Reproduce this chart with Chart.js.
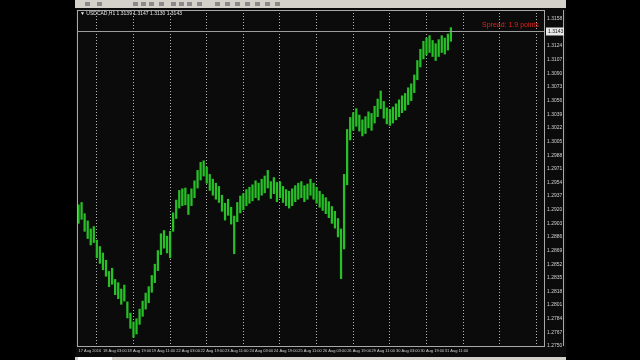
<!DOCTYPE html>
<html>
<head>
<meta charset="utf-8">
<script src="https://cdn.jsdelivr.net/npm/chart.js@4.4.0/dist/chart.umd.min.js"></script>
<style>
  html, body { margin: 0; padding: 0; background: #000; width: 640px; height: 360px; overflow: hidden; }
  #toolbar { position: absolute; left: 75px; top: 0; width: 491px; height: 8px; background: #d4d1cb; }
  #toolbar span { position: absolute; top: 2px; width: 5px; height: 4px; background: #8a8a8a; }
  #tabs { position: absolute; left: 75px; top: 357px; width: 491px; height: 3px; background: #d4d1cb; }
  #tabs span { position: absolute; left: 3px; top: 0; width: 34px; height: 3px; background: #fff; }
  #wrap { position: absolute; left: 76px; top: 8px; width: 490px; height: 349px; background: #0b0b0b; }
  #symbol { position: absolute; left: 80px; top: 10px; color: #e6e6e6; font: 5px "Liberation Sans"; white-space: nowrap; }
  #spread { position: absolute; left: 482px; top: 21px; color: #e3241d; font: 7px "Liberation Sans"; white-space: nowrap; }
</style>
</head>
<body>
<div id="toolbar">
  <span style="left:10px"></span><span style="left:22px"></span><span style="left:58px"></span>
  <span style="left:66px"></span><span style="left:74px"></span><span style="left:84px"></span>
  <span style="left:96px"></span><span style="left:104px"></span><span style="left:112px"></span>
  <span style="left:122px"></span><span style="left:140px"></span><span style="left:150px"></span>
  <span style="left:160px"></span><span style="left:170px"></span><span style="left:180px"></span>
  <span style="left:190px"></span><span style="left:200px"></span>
</div>
<div id="wrap"><canvas id="chart" width="490" height="349"></canvas></div>
<div id="symbol">▼ USDCAD,H1 1.3139 1.3147 1.3130 1.3143</div>
<div id="spread">Spread: 1.9 points</div>
<div id="tabs"><span></span></div>
<script>
// H1 bars grouped two hours per slot
const highs = [
  1.2926, 1.2929, 1.2915, 1.2906, 1.2896, 1.2899, 1.2882, 1.2874, 1.2866, 1.2857,
  1.2843, 1.2847, 1.2833, 1.2829, 1.2821, 1.2826, 1.2805, 1.2791, 1.2780, 1.2784,
  1.2796, 1.2806, 1.2816, 1.2824, 1.2838, 1.2852, 1.2869, 1.2890, 1.2894, 1.2887,
  1.2893, 1.2916, 1.2932, 1.2944, 1.2946, 1.2947, 1.2939, 1.2946, 1.2956, 1.2969,
  1.2979, 1.2981, 1.2973, 1.2964, 1.2958, 1.2953, 1.2949, 1.2938, 1.2928, 1.2933,
  1.2923, 1.2912, 1.2929, 1.2937, 1.2940, 1.2945, 1.2948, 1.2951, 1.2956, 1.2953,
  1.2958, 1.2962, 1.2969, 1.2955, 1.2960, 1.2954, 1.2955, 1.2949, 1.2945, 1.2943,
  1.2946, 1.2950, 1.2953, 1.2955, 1.2950, 1.2952, 1.2958, 1.2953, 1.2948, 1.2943,
  1.2939, 1.2935, 1.2930, 1.2924, 1.2918, 1.2909, 1.2896, 1.2964, 1.3020, 1.3035,
  1.3041, 1.3046, 1.3038, 1.3032, 1.3036, 1.3042, 1.3040, 1.3049, 1.3058, 1.3068,
  1.3055, 1.3047, 1.3045, 1.3048, 1.3052, 1.3057, 1.3062, 1.3065, 1.3072, 1.3077,
  1.3088, 1.3106, 1.3120, 1.3130, 1.3134, 1.3137, 1.3131, 1.3127, 1.3132, 1.3137,
  1.3134, 1.3139, 1.3147
];
const lows = [
  1.2903, 1.2908, 1.2893, 1.2884, 1.2876, 1.2879, 1.2860, 1.2853, 1.2845, 1.2837,
  1.2824, 1.2827, 1.2814, 1.2809, 1.2802, 1.2806, 1.2785, 1.2772, 1.2761, 1.2765,
  1.2777, 1.2787, 1.2796, 1.2804, 1.2817, 1.2829, 1.2844, 1.2864, 1.2872, 1.2866,
  1.2860, 1.2893, 1.2909, 1.2922, 1.2925, 1.2926, 1.2914, 1.2925, 1.2935, 1.2947,
  1.2957, 1.2962, 1.2953, 1.2944, 1.2938, 1.2933, 1.2929, 1.2918, 1.2907, 1.2913,
  1.2902, 1.2865, 1.2905, 1.2916, 1.2920, 1.2925, 1.2928, 1.2931, 1.2935, 1.2932,
  1.2938, 1.2941, 1.2947, 1.2934, 1.2940, 1.2930, 1.2935, 1.2929, 1.2925, 1.2922,
  1.2925, 1.2930, 1.2933, 1.2935, 1.2930, 1.2933, 1.2938, 1.2933, 1.2928, 1.2923,
  1.2919, 1.2915, 1.2910, 1.2903, 1.2897, 1.2886, 1.2834, 1.2871, 1.2951, 1.3007,
  1.3019, 1.3024, 1.3018, 1.3012, 1.3015, 1.3022, 1.3019, 1.3028, 1.3036, 1.3046,
  1.3034, 1.3027, 1.3025, 1.3028, 1.3032, 1.3036, 1.3041, 1.3044, 1.3051, 1.3056,
  1.3066, 1.3082, 1.3098, 1.3108, 1.3113, 1.3116, 1.3111, 1.3106, 1.3111, 1.3116,
  1.3114, 1.3119, 1.3130
];
const timeLabels = [
  "17 Aug 2016", "18 Aug 03:00", "18 Aug 19:00", "19 Aug 11:00", "22 Aug 03:00",
  "22 Aug 19:00", "23 Aug 11:00", "24 Aug 03:00", "24 Aug 19:00", "25 Aug 11:00",
  "26 Aug 03:00", "26 Aug 19:00", "29 Aug 11:00", "30 Aug 03:00", "30 Aug 19:00",
  "31 Aug 11:00"
];
const priceTicks = [
  1.2750, 1.2767, 1.2784, 1.2801, 1.2818, 1.2835, 1.2852, 1.2869, 1.2886, 1.2903,
  1.2920, 1.2937, 1.2954, 1.2971, 1.2988, 1.3005, 1.3022, 1.3039, 1.3056, 1.3073,
  1.3090, 1.3107, 1.3124, 1.3141, 1.3158
];
const bidPrice = 1.3143;

const slotCount = 153; // includes the empty chart shift on the right
const slots = Array.from({ length: slotCount }, (_, i) => i);
const bars = lows.map((low, i) => [low, highs[i]]);

const frame = {
  id: "frame",
  afterDraw(chart) {
    const { ctx, chartArea } = chart;
    const y = chart.scales.y;
    ctx.save();
    ctx.strokeStyle = "#a8a8a8";
    ctx.lineWidth = 1;
    ctx.strokeRect(chartArea.left + 0.5, chartArea.top + 0.5, chartArea.width, chartArea.height);
    ctx.beginPath();
    ctx.moveTo(chart.width - 2.5, chartArea.top);
    ctx.lineTo(chart.width - 2.5, chartArea.bottom);
    ctx.stroke();
    // bid line and price marker
    const by = Math.round(y.getPixelForValue(bidPrice)) + 0.5;
    ctx.strokeStyle = "#9c9c9c";
    ctx.beginPath();
    ctx.moveTo(chartArea.left, by);
    ctx.lineTo(chartArea.right, by);
    ctx.stroke();
    ctx.fillStyle = "#e8e8e8";
    ctx.fillRect(chartArea.right + 2, by - 4, 18, 8);
    ctx.fillStyle = "#111";
    ctx.font = "5px 'Liberation Sans'";
    ctx.textBaseline = "middle";
    ctx.fillText(bidPrice.toFixed(4), chartArea.right + 4, by);
    ctx.restore();
  }
};

new Chart(document.getElementById("chart"), {
  type: "bar",
  data: {
    labels: slots,
    datasets: [
      {
        data: bars,
        backgroundColor: "#27c027",
        barThickness: 1.6,
        borderSkipped: false
      }
    ]
  },
  options: {
    responsive: false,
    animation: false,
    layout: { padding: { left: 1, top: 2, right: 0, bottom: 0 } },
    plugins: { legend: { display: false }, tooltip: { enabled: false } },
    scales: {
      x: {
        offset: true,
        grid: {
          offset: false,
          drawTicks: false,
          color: (c) => (c.index >= 6 && (c.index - 6) % 12 === 0 ? "#b4b4b4" : "rgba(0,0,0,0)")
        },
        border: { display: false, dash: [1, 2] },
        ticks: {
          autoSkip: false,
          maxRotation: 0,
          minRotation: 0,
          align: "start",
          padding: 2,
          color: "#d0d0d0",
          font: { size: 4, family: "Liberation Sans" },
          callback: (v, i) => (i % 8 === 0 && timeLabels[i / 8] ? timeLabels[i / 8] : "")
        },
        afterFit: (s) => { s.height = 11; s.paddingLeft = 0; s.paddingRight = 0; }
      },
      y: {
        position: "right",
        min: 1.2750,
        max: 1.3169,
        grid: { display: false, drawTicks: false },
        border: { display: true, color: "#a8a8a8" },
        ticks: {
          padding: 3,
          color: "#d0d0d0",
          font: { size: 5, family: "Liberation Sans" },
          callback: (v) => Number(v).toFixed(4)
        },
        afterBuildTicks: (s) => { s.ticks = priceTicks.map((v) => ({ value: v })); },
        afterFit: (s) => { s.width = 22; s.paddingTop = 0; s.paddingBottom = 0; }
      }
    }
  },
  plugins: [frame]
});
</script>
</body>
</html>
